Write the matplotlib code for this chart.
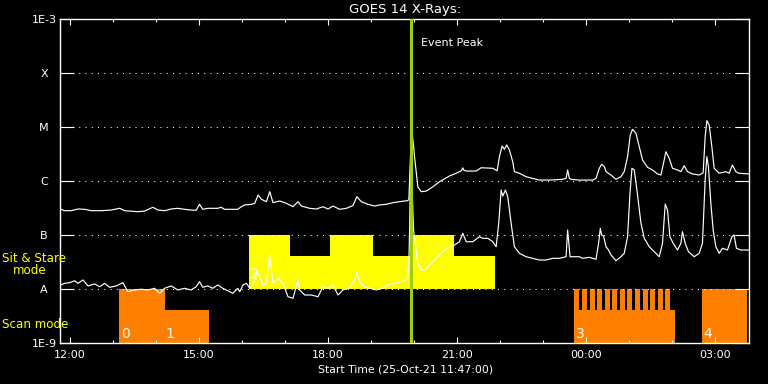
import matplotlib
matplotlib.use('Agg')
import matplotlib.pyplot as plt
from matplotlib.ticker import FixedLocator, NullLocator

# ---------------- data (time in hours since 2021-10-25 00:00) ----------------
long_t = [11.793, 11.886, 12.039, 12.195, 12.349, 12.503, 12.735, 12.967, 13.162, 13.278,
          13.586, 13.742, 13.934, 14.050, 14.206, 14.359, 14.514, 14.670, 14.823, 14.939,
          15.018, 15.094, 15.210, 15.442, 15.519, 15.598, 15.906, 15.98, 16.069, 16.224,
          16.301, 16.377, 16.456, 16.572, 16.649, 16.725, 16.881, 17.036, 17.189, 17.305,
          17.384, 17.577, 17.732, 17.885, 18.002, 18.117, 18.273, 18.428, 18.581, 18.674,
          18.776, 18.930, 19.085, 19.201, 19.357, 19.510, 19.665, 19.844, 19.881, 19.92,
          19.951, 19.99, 20.013, 20.090, 20.168, 20.284, 20.437, 20.593, 20.825, 20.981,
          21.10, 21.134, 21.16, 21.213, 21.445, 21.561, 21.830, 21.932, 21.985, 22.048,
          22.101, 22.155, 22.217, 22.294, 22.333, 22.449, 22.605, 22.758, 22.913, 23.145,
          23.454, 23.533, 23.570, 23.609, 23.649, 23.841, 24.150, 24.229, 24.306, 24.359,
          24.422, 24.461, 24.577, 24.693, 24.809, 24.885, 24.962, 25.025, 25.078, 25.157,
          25.234, 25.310, 25.426, 25.542, 25.658, 25.737, 25.797, 25.853, 25.930, 26.006,
          26.122, 26.201, 26.278, 26.354, 26.470, 26.626, 26.718, 26.765, 26.804, 26.858,
          26.920, 26.974, 27.090, 27.245, 27.322, 27.398, 27.477, 27.553, 27.785]
long_f = [2.99e-7, 2.82e-7, 2.82e-7, 3.03e-7, 2.99e-7, 2.82e-7, 2.82e-7, 2.90e-7, 3.12e-7, 2.82e-7,
          2.70e-7, 2.78e-7, 3.26e-7, 2.90e-7, 2.82e-7, 3.03e-7, 3.12e-7, 2.99e-7, 2.90e-7, 2.87e-7,
          3.70e-7, 2.99e-7, 3.12e-7, 3.12e-7, 3.26e-7, 2.99e-7, 2.99e-7, 3.3e-7, 3.6e-7, 3.70e-7,
          3.86e-7, 5.5e-7, 4.58e-7, 4.14e-7, 6.34e-7, 3.97e-7, 4.26e-7, 3.86e-7, 3.34e-7, 4.14e-7,
          3.44e-7, 3.12e-7, 3.03e-7, 3.34e-7, 3.03e-7, 3.44e-7, 2.99e-7, 3.12e-7, 3.49e-7, 5.12e-7,
          4.14e-7, 3.70e-7, 3.44e-7, 3.60e-7, 3.70e-7, 3.97e-7, 4.14e-7, 4.32e-7, 4.5e-7, 3.0e-6,
          8.2e-6, 4.5e-6, 2.82e-6, 7.8e-7, 6.34e-7, 6.5e-7, 7.8e-7, 9.7e-7, 1.24e-6, 1.39e-6,
          1.55e-6, 1.75e-6, 1.58e-6, 1.53e-6, 1.53e-6, 1.76e-6, 1.72e-6, 1.55e-6, 2.82e-6, 4.45e-6,
          3.86e-6, 4.64e-6, 3.75e-6, 2.28e-6, 1.49e-6, 1.39e-6, 1.20e-6, 1.12e-6, 1.04e-6, 1.04e-6,
          1.075e-6, 1.12e-6, 1.60e-6, 1.12e-6, 1.075e-6, 1.04e-6, 1.04e-6, 1.12e-6, 1.72e-6, 2.04e-6,
          1.84e-6, 1.49e-6, 1.29e-6, 1.075e-6, 1.20e-6, 1.49e-6, 2.82e-6, 7.11e-6, 9.06e-6, 7.64e-6,
          4.32e-6, 2.45e-6, 1.79e-6, 1.60e-6, 1.35e-6, 1.29e-6, 2.13e-6, 3.49e-6, 2.63e-6, 1.72e-6,
          1.60e-6, 1.49e-6, 1.92e-6, 1.49e-6, 1.35e-6, 1.29e-6, 1.42e-6, 6.61e-6, 1.31e-5, 1.09e-5,
          4.32e-6, 1.72e-6, 1.39e-6, 1.49e-6, 1.39e-6, 1.98e-6, 1.49e-6, 1.39e-6, 1.35e-6]

short_t = [11.793, 11.886, 12.001, 12.117, 12.195, 12.311, 12.426, 12.582, 12.697, 12.813,
           12.929, 13.083, 13.238, 13.354, 13.509, 13.663, 13.818, 13.974, 14.090, 14.206,
           14.359, 14.514, 14.670, 14.823, 14.939, 15.018, 15.094, 15.210, 15.326, 15.442,
           15.558, 15.674, 15.790, 15.906, 15.953, 16.029, 16.108, 16.185, 16.261, 16.354,
           16.416, 16.493, 16.572, 16.649, 16.688, 16.725, 16.841, 16.957, 17.073, 17.189,
           17.305, 17.345, 17.461, 17.616, 17.770, 17.885, 18.002, 18.117, 18.234, 18.350,
           18.505, 18.621, 18.674, 18.737, 18.853, 18.969, 19.124, 19.278, 19.394, 19.549,
           19.705, 19.820, 19.858, 19.881, 19.90, 19.925, 19.99, 20.090, 20.168, 20.245,
           20.361, 20.516, 20.670, 20.825, 20.941, 21.057, 21.134, 21.213, 21.366, 21.521,
           21.598, 21.714, 21.830, 21.909, 21.969, 22.025, 22.062, 22.125, 22.178, 22.257,
           22.333, 22.449, 22.605, 22.758, 22.913, 23.069, 23.222, 23.377, 23.533, 23.570,
           23.626, 23.841, 23.918, 24.073, 24.229, 24.289, 24.329, 24.359, 24.405, 24.461,
           24.521, 24.577, 24.614, 24.693, 24.809, 24.885, 24.962, 25.018, 25.064, 25.118,
           25.194, 25.273, 25.350, 25.466, 25.582, 25.698, 25.774, 25.837, 25.890, 25.946,
           26.022, 26.122, 26.201, 26.238, 26.301, 26.377, 26.509, 26.626, 26.702, 26.765,
           26.804, 26.841, 26.897, 26.951, 27.013, 27.090, 27.166, 27.283, 27.385, 27.437,
           27.491, 27.593, 27.785]
short_f = [1.19e-8, 1.275e-8, 1.31e-8, 1.42e-8, 1.275e-8, 1.47e-8, 1.14e-8, 1.24e-8, 1.10e-8, 1.275e-8,
           1.075e-8, 1.14e-8, 1.31e-8, 8.9e-9, 9.6e-9, 9.9e-9, 9.6e-9, 1.03e-8, 8.3e-9, 1.03e-8,
           1.14e-8, 9.6e-9, 1.03e-8, 9.6e-9, 1.10e-8, 1.365e-8, 1.075e-8, 1.14e-8, 1.03e-8, 1.19e-8,
           1.03e-8, 9.3e-9, 8.3e-9, 1.03e-8, 8.9e-9, 1.19e-8, 1.275e-8, 1.03e-8, 1.19e-8, 2.09e-8,
           1.69e-8, 1.19e-8, 1.275e-8, 4.26e-8, 2.25e-8, 1.275e-8, 1.58e-8, 1.275e-8, 7.2e-9, 6.73e-9,
           1.47e-8, 9.6e-9, 7.74e-9, 7.74e-9, 7.2e-9, 1.10e-8, 1.03e-8, 1.19e-8, 7.74e-9, 9.6e-9,
           1.03e-8, 1.47e-8, 2.09e-8, 1.365e-8, 1.10e-8, 1.03e-8, 9.6e-9, 1.03e-8, 1.19e-8, 1.275e-8,
           1.365e-8, 1.47e-8, 1.69e-8, 2.99e-8, 1.5e-7, 3.26e-6, 1.235e-7, 2.99e-8, 2.25e-8, 2.25e-8,
           2.78e-8, 3.70e-8, 4.91e-8, 6.07e-8, 6.53e-8, 7.51e-8, 1.075e-7, 7.51e-8, 7.51e-8, 9.3e-8,
           8.69e-8, 8.69e-8, 7.51e-8, 6.07e-8, 1.65e-7, 6.81e-7, 5.27e-7, 6.81e-7, 5.12e-7, 1.65e-7,
           6.07e-8, 4.58e-8, 3.96e-8, 3.70e-8, 3.44e-8, 3.44e-8, 3.70e-8, 3.70e-8, 3.96e-8, 1.235e-7,
           3.96e-8, 3.96e-8, 3.70e-8, 3.86e-8, 3.55e-8, 7.02e-8, 1.33e-7, 1.0e-7, 9.58e-8, 6.07e-8,
           5.27e-8, 4.26e-8, 3.96e-8, 3.34e-8, 3.96e-8, 4.58e-8, 9.3e-8, 5.92e-7, 1.72e-6, 1.60e-6,
           5.5e-7, 1.65e-7, 8.69e-8, 6.07e-8, 4.91e-8, 3.96e-8, 7.02e-8, 3.75e-7, 2.90e-7, 9.3e-8,
           7.02e-8, 5.27e-8, 7.02e-8, 1.15e-7, 7.02e-8, 4.91e-8, 3.96e-8, 4.58e-8, 7.02e-8, 1.04e-6,
           2.82e-6, 1.84e-6, 3.86e-7, 1.235e-7, 6.07e-8, 4.58e-8, 5.67e-8, 5.27e-8, 9.3e-8, 1.0e-7,
           5.67e-8, 5.27e-8, 5.27e-8]

# Sit & Stare observations (yellow)
sit_start = [16.16, 17.11, 18.06, 19.04, 19.92, 20.94]
sit_end = [17.11, 18.06, 19.04, 19.92, 20.94, 21.89]
sit_top = [1e-7, 4.1e-8, 1e-7, 4.1e-8, 1e-7, 4.1e-8]
sit_floor = 1e-8

# Scan mode observations (orange)
scan_start = [13.15, 14.21, 23.725, 26.69]
scan_end = [14.21, 15.23, 26.07, 27.745]
scan_top = [1e-8, 4.1e-9, 4.1e-9, 1e-8]
comb_start = [23.725, 23.901, 24.078, 24.254, 24.430, 24.607, 24.783,
              24.959, 25.135, 25.312, 25.488, 25.664, 25.841]
comb_end = [23.841, 24.017, 24.194, 24.370, 24.546, 24.723, 24.899,
            25.075, 25.251, 25.428, 25.604, 25.780, 25.957]
comb_top = 1e-8
scan_floor = 1e-9

obs_labels = ['0', '1', '2', '3', '4']
obs_label_t = [13.19, 14.23, 16.19, 23.76, 26.72]
obs_label_f = [1.24e-9, 1.24e-9, 1.6e-8, 1.24e-9, 1.24e-9]

event_peak_t = 19.92

x_ticks = [12, 15, 18, 21, 24, 27]
x_ticklabels = ['12:00', '15:00', '18:00', '21:00', '00:00', '03:00']
x_minor = [13, 14, 16, 17, 19, 20, 22, 23, 25, 26]
y_ticks = [1e-9, 1e-8, 1e-7, 1e-6, 1e-5, 1e-4, 1e-3]
y_ticklabels = ['1E-9', 'A', 'B', 'C', 'M', 'X', '1E-3']
grid_levels = [1e-8, 1e-7, 1e-6, 1e-5, 1e-4]
t_start, t_end = 11.7833, 27.7833

# ---------------- drawing ----------------
W, H = 768, 384
fig = plt.figure(figsize=(W / 100, H / 100), dpi=100, facecolor='black')
ax = fig.add_axes([60.3 / W, 1 - 343 / H, (749 - 60.3) / W, 324 / H])
ax.set_facecolor('black')
ax.set_yscale('log')
ax.set_xlim(t_start, t_end)
ax.set_ylim(1e-9, 1e-3)

ORANGE = '#ff8000'
YELLOW = '#ffff00'

# mode bars
ax.bar(sit_start, [t - sit_floor for t in sit_top],
       width=[e - s for s, e in zip(sit_start, sit_end)], bottom=sit_floor,
       align='edge', color=YELLOW, linewidth=0, zorder=1)
ax.bar(scan_start, [t - scan_floor for t in scan_top],
       width=[e - s for s, e in zip(scan_start, scan_end)], bottom=scan_floor,
       align='edge', color=ORANGE, linewidth=0, zorder=1)
ax.bar(comb_start, [comb_top - scan_floor] * len(comb_start),
       width=[e - s for s, e in zip(comb_start, comb_end)], bottom=scan_floor,
       align='edge', color=ORANGE, linewidth=0, zorder=1)

# grid
for g in grid_levels:
    ax.axhline(g, color='white', lw=0.75, linestyle=(0, (1, 5)), zorder=2)

# event peak line
ax.axvline(event_peak_t, color='#9fcf00', lw=2.2, zorder=4)

# curves
ax.plot(long_t, long_f, color='white', lw=0.85, zorder=3)
ax.plot(short_t, short_f, color='white', lw=0.85, zorder=3)

# observation numbers
for lab, t, f in zip(obs_labels, obs_label_t, obs_label_f):
    ax.text(t, f, lab, color='white', fontsize=10, ha='left', va='baseline', zorder=5)

ax.text(20.17, 3.64e-4, 'Event Peak', color='white', fontsize=8, ha='left', va='center')

# spines & ticks
for sp in ax.spines.values():
    sp.set_color('white')
    sp.set_linewidth(1.0)

ax.xaxis.set_major_locator(FixedLocator(x_ticks))
ax.xaxis.set_minor_locator(FixedLocator(x_minor))
ax.set_xticklabels(x_ticklabels)
ax.tick_params(axis='x', which='major', direction='in', length=4.4, width=0.8,
               colors='white', top=True, bottom=True, labelsize=8, pad=5.3)
ax.tick_params(axis='x', which='minor', direction='in', length=2.3, width=0.8,
               colors='white', top=True, bottom=True)

ax.yaxis.set_major_locator(FixedLocator(y_ticks))
ax.yaxis.set_minor_locator(NullLocator())
ax.set_yticklabels(y_ticklabels)
ax.tick_params(axis='y', which='major', direction='in', length=10, width=0.8,
               colors='white', left=True, right=True, labelsize=8, pad=11.7)
for lab in ax.get_yticklabels():
    lab.set_horizontalalignment('center')

fig.text(404.7 / W, 1 - 9.5 / H, 'GOES 14 X-Rays:', color='white', fontsize=9.5,
         ha='center', va='center')
fig.text(405.3 / W, 1 - 369 / H, 'Start Time (25-Oct-21 11:47:00)', color='white',
         fontsize=7.8, ha='center', va='center')
fig.text(2 / W, 1 - 258.7 / H, 'Sit & Stare', color=YELLOW, fontsize=8.6, ha='left', va='center')
fig.text(12.7 / W, 1 - 271 / H, 'mode', color=YELLOW, fontsize=8.6, ha='left', va='center')
fig.text(2 / W, 1 - 324 / H, 'Scan mode', color=YELLOW, fontsize=8.6, ha='left', va='center')

fig.savefig('out.png', dpi=100, facecolor='black')
